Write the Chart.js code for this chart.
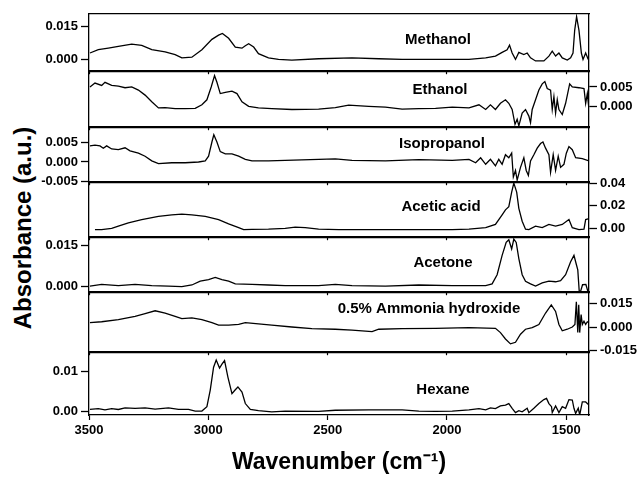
<!DOCTYPE html>
<html>
<head>
<meta charset="utf-8">
<script src="https://cdn.jsdelivr.net/npm/chart.js@4.4.1/dist/chart.umd.min.js"></script>
<style>
  body { margin: 0; background: #fff; }
  #fig { position: relative; width: 641px; height: 477px; overflow: hidden; background: #fff; }
  #fig canvas { position: absolute; left: 0; }
  #yTitle {
    position: absolute; left: 23px; top: 228px;
    transform: translate(-50%, -50%) rotate(-90deg);
    font: bold 24px "Liberation Sans", Arial, sans-serif;
    white-space: nowrap; color: #000;
  }
</style>
</head>
<body>
<div id="fig">
  <div id="yTitle">Absorbance (a.u.)</div>
</div>
<script>
// x axis ticks (wavenumber, cm-1)
const xTicks = [3500, 3000, 2500, 2000, 1500];

// Methanol
const methanolWn = [3496,3461,3419,3377,3321,3279,3237,3181,3139,3111,3069,3027,2985,2957,2941,2915,2887,2859,2845,2831,2810,2790,2748,2706,2650,2538,2398,2286,2188,2048,1908,1838,1797,1769,1748,1738,1727,1713,1699,1678,1664,1650,1629,1594,1573,1559,1545,1531,1517,1496,1482,1472,1465,1457,1447,1437,1430,1419,1408];
const methanolAbs = [0.0029,0.0044,0.0051,0.0059,0.0069,0.0064,0.0044,0.0034,0.0022,0.0007,0.0010,0.0044,0.0091,0.0110,0.0118,0.0096,0.0056,0.0051,0.0062,0.0071,0.0056,0.0026,0.0007,0.0000,-0.0003,0.0003,0.0007,0.0003,0.0000,0.0000,0.0000,0.0007,0.0015,0.0032,0.0044,0.0065,0.0029,0.0000,0.0032,0.0022,0.0029,0.0007,-0.0007,-0.0007,0.0015,0.0037,0.0015,0.0029,0.0007,-0.0003,0.0007,0.0029,0.0132,0.0194,0.0132,0.0029,0.0000,0.0029,0.0000];
const methanolTicks = [0, 0.015];

// Ethanol
const ethanolWn = [3496,3475,3447,3433,3405,3377,3349,3321,3293,3265,3237,3209,3181,3139,3097,3055,3027,3006,2988,2974,2964,2950,2929,2901,2880,2859,2831,2790,2734,2650,2538,2468,2412,2328,2258,2188,2118,2048,1978,1908,1866,1838,1818,1797,1776,1755,1741,1727,1715,1706,1699,1685,1671,1657,1650,1643,1629,1615,1601,1590,1580,1566,1559,1552,1545,1538,1531,1517,1503,1486,1475,1447,1426,1419,1412,1405];
const ethanolAbs = [0.0050,0.0060,0.0054,0.0062,0.0054,0.0052,0.0048,0.0050,0.0042,0.0029,0.0012,-0.0004,-0.0003,-0.0006,-0.0006,-0.0005,0.0004,0.0017,0.0050,0.0079,0.0062,0.0033,0.0036,0.0039,0.0033,0.0012,0.0000,-0.0004,-0.0006,-0.0008,-0.0007,-0.0003,0.0003,0.0000,-0.0002,-0.0007,-0.0006,-0.0005,-0.0002,-0.0004,0.0004,-0.0008,0.0004,-0.0008,0.0008,0.0017,0.0008,-0.0008,-0.0046,-0.0033,-0.0050,-0.0017,-0.0008,-0.0025,-0.0042,-0.0008,0.0017,0.0042,0.0058,0.0064,0.0046,0.0042,-0.0008,0.0025,-0.0017,0.0017,-0.0008,-0.0021,0.0008,0.0058,0.0050,0.0048,0.0046,0.0008,0.0033,-0.0008];
const ethanolTicks = [0, 0.005];

// Isopropanol
const isopropanolWn = [3496,3475,3454,3440,3426,3405,3377,3349,3328,3293,3265,3237,3209,3153,3097,3041,3013,2999,2985,2977,2964,2950,2929,2901,2873,2845,2817,2748,2678,2538,2468,2398,2258,2118,1978,1908,1880,1859,1838,1818,1797,1783,1769,1755,1741,1729,1722,1713,1706,1692,1678,1668,1659,1650,1636,1622,1608,1598,1587,1573,1566,1555,1545,1534,1524,1510,1500,1489,1475,1461,1433,1405];
const isopropanolAbs = [0.0042,0.0044,0.0042,0.0036,0.0042,0.0034,0.0032,0.0037,0.0029,0.0023,0.0015,0.0003,-0.0004,-0.0002,-0.0002,0.0000,0.0003,0.0015,0.0052,0.0071,0.0052,0.0027,0.0021,0.0021,0.0015,0.0007,0.0003,0.0003,0.0004,0.0007,0.0008,0.0004,0.0003,0.0006,0.0004,0.0007,-0.0002,0.0011,-0.0006,0.0007,-0.0010,0.0007,-0.0006,0.0019,0.0011,0.0023,-0.0039,-0.0022,-0.0047,-0.0014,0.0011,-0.0022,-0.0035,0.0003,0.0019,0.0036,0.0048,0.0052,0.0036,0.0019,-0.0027,0.0019,-0.0022,0.0015,-0.0014,-0.0006,0.0023,0.0040,0.0032,0.0011,0.0009,0.0003];
const isopropanolTicks = [-0.005, 0, 0.005];

// Acetic acid
const aceticWn = [3475,3447,3405,3377,3335,3279,3209,3153,3111,3069,3013,2957,2915,2873,2852,2817,2748,2678,2636,2594,2538,2454,2398,2258,2118,1978,1908,1838,1797,1769,1755,1741,1729,1720,1708,1699,1685,1671,1657,1629,1601,1573,1545,1517,1489,1475,1447,1426,1419,1405];
const aceticAbs = [-0.0008,-0.0008,0.0003,0.0023,0.0051,0.0080,0.0108,0.0122,0.0128,0.0122,0.0108,0.0080,0.0043,0.0009,-0.0008,-0.0006,-0.0004,0.0003,0.0014,0.0009,-0.0003,-0.0008,-0.0008,-0.0008,-0.0008,-0.0008,-0.0004,0.0009,0.0037,0.0122,0.0165,0.0193,0.0321,0.0400,0.0321,0.0179,0.0065,-0.0004,-0.0008,0.0023,0.0009,0.0037,0.0023,0.0037,0.0080,0.0009,-0.0008,-0.0004,0.0080,0.0088];
const aceticTicks = [0, 0.02, 0.04];

// Acetone
const acetoneWn = [3496,3447,3377,3307,3237,3167,3111,3069,3034,2999,2971,2943,2915,2887,2817,2748,2678,2538,2468,2398,2258,2118,1978,1838,1811,1790,1769,1752,1741,1729,1720,1710,1699,1685,1671,1650,1629,1601,1573,1545,1524,1503,1482,1468,1458,1452,1446,1440,1432,1418,1410,1405];
const acetoneAbs = [0.0000,0.0006,0.0002,0.0006,0.0002,0.0000,-0.0002,0.0004,0.0018,0.0024,0.0032,0.0024,0.0018,0.0008,0.0006,0.0004,0.0002,0.0002,0.0006,0.0002,0.0000,0.0004,0.0002,0.0002,0.0008,0.0042,0.0114,0.0162,0.0172,0.0138,0.0174,0.0162,0.0102,0.0042,0.0018,0.0008,0.0000,0.0012,0.0018,0.0016,0.0020,0.0042,0.0090,0.0114,0.0080,0.0060,-0.0019,-0.0019,0.0005,0.0006,-0.0019,-0.0019];
const acetoneTicks = [0, 0.015];

// 0.5% Ammonia hydroxide
const ammoniaWn = [3496,3447,3377,3307,3265,3223,3181,3139,3111,3069,3027,2985,2957,2915,2873,2845,2790,2734,2650,2566,2468,2398,2314,2286,2188,2048,1908,1797,1776,1755,1734,1713,1692,1671,1643,1615,1587,1563,1545,1531,1517,1496,1475,1464,1458,1452,1448,1444,1438,1433,1426,1419,1412,1405];
const ammoniaAbs = [0.0027,0.0033,0.0047,0.0067,0.0084,0.0102,0.0088,0.0067,0.0053,0.0057,0.0047,0.0027,0.0012,0.0012,0.0016,0.0027,0.0020,0.0012,0.0000,-0.0010,-0.0014,-0.0020,-0.0029,-0.0014,-0.0010,-0.0008,-0.0004,-0.0008,-0.0035,-0.0075,-0.0106,-0.0096,-0.0045,-0.0014,-0.0004,0.0016,0.0088,0.0139,0.0098,0.0016,-0.0024,-0.0014,0.0000,0.0016,0.0159,-0.0035,0.0139,-0.0035,0.0078,0.0016,0.0037,0.0016,0.0033,0.0027];
const ammoniaTicks = [-0.015, 0, 0.015];

// Hexane
const hexaneWn = [3496,3461,3433,3405,3377,3349,3307,3265,3223,3167,3125,3083,3055,3027,3006,2992,2978,2967,2953,2943,2932,2918,2901,2887,2876,2859,2845,2824,2790,2734,2678,2538,2468,2328,2188,2118,2048,1978,1908,1866,1838,1818,1797,1776,1755,1741,1727,1713,1699,1685,1664,1657,1636,1615,1594,1583,1573,1562,1559,1545,1531,1517,1503,1489,1475,1468,1461,1450,1444,1433,1419,1405];
const hexaneAbs = [0.0004,0.0006,0.0003,0.0006,0.0004,0.0008,0.0007,0.0008,0.0005,0.0008,0.0004,0.0004,0.0000,0.0000,0.0011,0.0053,0.0111,0.0129,0.0109,0.0119,0.0128,0.0086,0.0044,0.0054,0.0061,0.0048,0.0019,0.0004,0.0001,-0.0002,0.0000,-0.0001,0.0002,0.0003,0.0003,0.0000,-0.0001,0.0000,0.0003,0.0006,0.0003,0.0008,0.0006,0.0013,0.0015,0.0019,0.0007,-0.0004,0.0001,-0.0002,0.0007,-0.0004,0.0007,0.0019,0.0029,0.0032,0.0019,0.0011,-0.0004,0.0013,-0.0004,0.0011,0.0007,0.0029,0.0028,0.0007,-0.0006,0.0007,-0.0010,0.0023,0.0023,0.0015];
const hexaneTicks = [0, 0.01];

// panel setup: y range, which side the labels sit on, where the name goes
const panels = [
  { name: 'Methanol', wn: methanolWn, abs: methanolAbs, ticks: methanolTicks, min: -0.0049, max: 0.0207, dec: 3, side: 'left', lx: 0.698, ly: 0.47 },
  { name: 'Ethanol', wn: ethanolWn, abs: ethanolAbs, ticks: ethanolTicks, min: -0.0051, max: 0.0089, dec: 3, side: 'right', lx: 0.702, ly: 0.34 },
  { name: 'Isopropanol', wn: isopropanolWn, abs: isopropanolAbs, ticks: isopropanolTicks, min: -0.005, max: 0.0089, dec: 3, side: 'left', lx: 0.706, ly: 0.31 },
  { name: 'Acetic acid', wn: aceticWn, abs: aceticAbs, ticks: aceticTicks, min: -0.0066, max: 0.0403, dec: 2, side: 'right', lx: 0.704, ly: 0.45 },
  { name: 'Acetone', wn: acetoneWn, abs: acetoneAbs, ticks: acetoneTicks, min: -0.0019, max: 0.0179, dec: 3, side: 'left', lx: 0.708, ly: 0.46 },
  { name: '0.5% Ammonia hydroxide', wn: ammoniaWn, abs: ammoniaAbs, ticks: ammoniaTicks, min: -0.0152, max: 0.0215, dec: 3, side: 'right', lx: 0.680, ly: 0.28 },
  { name: 'Hexane', wn: hexaneWn, abs: hexaneAbs, ticks: hexaneTicks, min: -0.001, max: 0.01475, dec: 2, side: 'left', lx: 0.708, ly: 0.60 }
];

const PANEL_TOPS = [13, 71, 127, 182, 237, 292, 352];
const PANEL_BOTTOM = 415;
const X_MIN = 1405, X_MAX = 3500;
const PAD = 10;
const LEFT_W = 89, RIGHT_W = 52;
const FONT = '"Liberation Sans", Arial, Helvetica, sans-serif';

Chart.defaults.font.family = FONT;
Chart.defaults.color = '#000';

// draws the sample name inside each panel
const panelLabel = {
  id: 'panelLabel',
  afterDatasetsDraw(chart, args, opts) {
    const { ctx, chartArea: a } = chart;
    ctx.save();
    ctx.font = 'bold 15px ' + FONT;
    ctx.fillStyle = '#000';
    ctx.textAlign = 'center';
    ctx.textBaseline = 'middle';
    ctx.fillText(opts.text, a.left + a.width * opts.x, a.top + a.height * opts.y);
    ctx.restore();
  }
};

const fig = document.getElementById('fig');
const frameBorder = { display: true, color: '#000', width: 1.3 };
const frameGrid = { display: true, drawOnChartArea: false, drawTicks: false };

panels.forEach((p, i) => {
  const last = i === panels.length - 1;
  const top = PANEL_TOPS[i];
  const bottom = last ? PANEL_BOTTOM : PANEL_TOPS[i + 1];
  const canvasTop = top - PAD;
  const canvasH = last ? 477 - canvasTop : bottom - top + 2 * PAD;
  const other = p.side === 'left' ? 'right' : 'left';

  const canvas = document.createElement('canvas');
  canvas.width = 641;
  canvas.height = canvasH;
  canvas.style.top = canvasTop + 'px';
  canvas.style.width = '641px';
  canvas.style.height = canvasH + 'px';
  fig.appendChild(canvas);

  new Chart(canvas, {
    type: 'line',
    data: {
      datasets: [{
        data: p.wn.map((w, k) => ({ x: w, y: p.abs[k] })),
        borderColor: '#000',
        borderWidth: 1.3,
        pointRadius: 0,
        tension: 0,
        xAxisID: 'x',
        yAxisID: 'y'
      }]
    },
    options: {
      responsive: false,
      animation: false,
      layout: { padding: { top: PAD, bottom: last ? 0 : PAD, left: 0, right: 0 } },
      scales: {
        x: {
          type: 'linear', position: 'bottom', reverse: true, min: X_MIN, max: X_MAX,
          afterBuildTicks: s => { s.ticks = xTicks.map(v => ({ value: v })); },
          // on inner panels the bottom ticks poke into the next panel, like the inward ticks of the original
          grid: { drawOnChartArea: false, drawTicks: true, tickLength: last ? 5 : 4, tickColor: '#000', tickWidth: 1.2 },
          border: frameBorder,
          ticks: { display: last, padding: 3, maxRotation: 0, autoSkip: false, font: { size: 13, weight: 'bold' }, callback: v => String(v) },
          title: { display: last, text: 'Wavenumber (cm\u207B\u00B9)', font: { size: 23, weight: 'bold' }, padding: { top: 0, bottom: 1 } },
          afterFit: s => { s.height = last ? 477 - PANEL_BOTTOM : 0; }
        },
        xTop: {
          type: 'linear', position: 'top', reverse: true, min: X_MIN, max: X_MAX,
          ticks: { display: false }, grid: frameGrid, border: frameBorder,
          afterFit: s => { s.height = 0; }
        },
        y: {
          type: 'linear', position: p.side, min: p.min, max: p.max,
          afterBuildTicks: s => { s.ticks = p.ticks.map(v => ({ value: v })); },
          grid: { drawOnChartArea: false, tickLength: 8, tickColor: '#000', tickWidth: 1.3 },
          border: frameBorder,
          ticks: { padding: 3, autoSkip: false, font: { size: 13, weight: 'bold' }, callback: v => v.toFixed(p.dec) },
          afterFit: s => { s.width = p.side === 'left' ? LEFT_W : RIGHT_W; }
        },
        yOther: {
          type: 'linear', position: other, min: p.min, max: p.max,
          ticks: { display: false }, grid: frameGrid, border: frameBorder,
          afterFit: s => { s.width = other === 'left' ? LEFT_W : RIGHT_W; }
        }
      },
      plugins: {
        legend: { display: false },
        tooltip: { enabled: false },
        panelLabel: { text: p.name, x: p.lx, y: p.ly }
      }
    },
    plugins: [panelLabel]
  });
});
</script>
</body>
</html>
